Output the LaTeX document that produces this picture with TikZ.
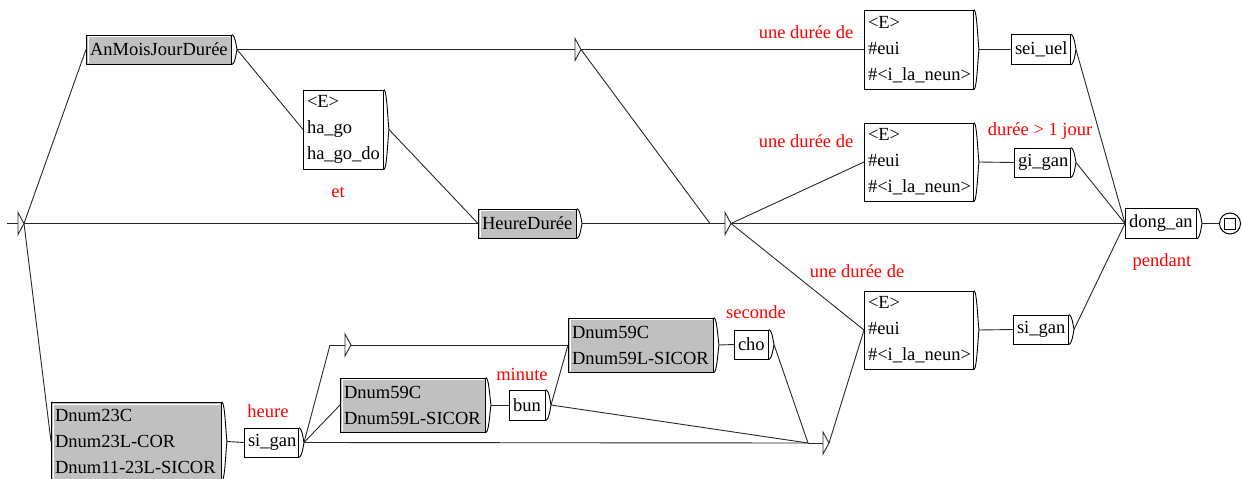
\documentclass[tikz,border=0pt]{standalone}
\usepackage{fontspec}
\setmainfont{Liberation Serif}
\usetikzlibrary{calc}
\hyphenpenalty=10000
\exhyphenpenalty=10000
\definecolor{boxgray}{RGB}{192,192,192}
\definecolor{lnc}{RGB}{40,40,40}
\newcommand\brk[1]{%
  \coordinate (#1-o) at ($(#1.east)+(5,0)$);
  \draw[brkst] (#1.north east) .. controls ($(#1.north east)+(3,1)$) and ($(#1-o)+(-1,-5)$) .. (#1-o)
    .. controls ($(#1-o)+(-1,5)$) and ($(#1.south east)+(3,-1)$) .. (#1.south east);}
\begin{document}
\begin{tikzpicture}[x=1pt,y=-1pt,
  bx/.style={draw=black, line width=1pt, fill=white, rectangle, anchor=west,
    inner xsep=3.5pt, inner ysep=0pt, align=left,
    font=\fontsize{18.5}{26}\selectfont},
  gbx/.style={bx, fill=boxgray,
    path picture={\draw[white,line width=1pt]
      ([shift={(1.5pt,1.5pt)}]path picture bounding box.south west) --
      ([shift={(1.5pt,-1.5pt)}]path picture bounding box.north west) --
      ([shift={(-1.5pt,-1.5pt)}]path picture bounding box.north east);}},
  brkst/.style={line width=0.9pt, draw=black},
  ln/.style={line width=0.9pt, draw=lnc},
  lbl/.style={text=red, anchor=base, inner sep=0pt, font=\fontsize{18.5}{22}\selectfont}]
\useasboundingbox (0,0) rectangle (1242,479);

% boxes
\node[gbx, text width=138pt, minimum height=29pt] (amjd) at (86,49.5) {AnMoisJourDurée};
\node[bx, text width=73pt, minimum height=79pt] (hago) at (303,129.5) {<E>\\ha\_go\\ha\_go\_do};
\node[gbx, text width=91pt, minimum height=29pt] (heure) at (478,223.5) {HeureDurée};
\node[bx, text width=102pt, minimum height=79pt] (b1) at (864,49.5) {<E>\\\#eui\\\#<i\_la\_neun>};
\node[bx, text width=52pt, minimum height=30pt] (seiuel) at (1011,49.5) {sei\_uel};
\node[bx, text width=102pt, minimum height=78pt] (b2) at (864,162) {<E>\\\#eui\\\#<i\_la\_neun>};
\node[bx, text width=49pt, minimum height=29pt] (gigan) at (1014,162.5) {gi\_gan};
\node[bx, text width=64pt, minimum height=30pt] (dongan) at (1125,223.5) {dong\_an};
\node[bx, text width=102pt, minimum height=78pt] (b3) at (864,330) {<E>\\\#eui\\\#<i\_la\_neun>};
\node[bx, text width=48pt, minimum height=29pt] (sigan2) at (1013,329.5) {si\_gan};
\node[gbx, text width=163pt, minimum height=78pt] (dnum23) at (51,441.5) {Dnum23C\\Dnum23L-COR\\Dnum11-23L-SICOR};
\node[bx, text width=47pt, minimum height=29pt] (sigan1) at (244,442.5) {si\_gan};
\node[gbx, text width=138pt, minimum height=54pt] (d59a) at (340,405) {Dnum59C\\Dnum59L-SICOR};
\node[bx, text width=29pt, minimum height=30pt] (bun) at (509,405) {bun};
\node[gbx, text width=138pt, minimum height=54pt] (d59b) at (568,345) {Dnum59C\\Dnum59L-SICOR};
\node[bx, text width=27pt, minimum height=29pt] (cho) at (734,344.5) {cho};

\foreach \n in {amjd,hago,heure,b1,seiuel,b2,gigan,dongan,b3,sigan2,dnum23,sigan1,d59a,bun,d59b,cho}{\brk{\n}}

% final state
\node[circle, draw=black, line width=1pt, minimum size=21pt, inner sep=0pt] (fin) at (1230,223.5) {};
\node[rectangle, draw=black, line width=1pt, minimum size=11pt, inner sep=0pt] (finsq) at (fin.center) {};

% initial state
\coordinate (init0) at (7,223.5);
\coordinate (init) at (24,223.5);

% empty nodes coordinates
\coordinate (E1-i) at (560,49.5);
\coordinate (E1-t) at (581,49.5);
\coordinate (E2-i) at (710,223.5);
\coordinate (E2-t) at (731,223.5);
\coordinate (E3-i) at (330,345);
\coordinate (E3-t) at (351,345);
\coordinate (E4-i) at (808,443);
\coordinate (E4-t) at (829,443);

% connectors
\draw[ln] (init0) -- (init);
\draw[ln] (init) -- (amjd.west);
\draw[ln] (init) -- (heure.west);
\draw[ln] (init) -- (dnum23.west);
\draw[ln] (amjd-o) -- (E1-i);
\draw[ln] (amjd-o) -- (hago.west);
\draw[ln] (hago-o) -- (heure.west);
\draw[ln] (heure-o) -- (E2-i);
\draw[ln] (E1-t) -- (b1.west);
\draw[ln] (E1-t) -- (E2-i);
\draw[ln] (E2-t) -- (b2.west);
\draw[ln] (E2-t) -- (b3.west);
\draw[ln] (E2-t) -- (dongan.west);
\draw[ln] (b1-o) -- (seiuel.west);
\draw[ln] (seiuel-o) -- (dongan.west);
\draw[ln] (b2-o) -- (gigan.west);
\draw[ln] (gigan-o) -- (dongan.west);
\draw[ln] (b3-o) -- (sigan2.west);
\draw[ln] (sigan2-o) -- (dongan.west);
\draw[ln] (dongan-o) -- (fin.west);
\draw[ln] (dnum23-o) -- (sigan1.west);
\draw[ln] (sigan1-o) -- (E3-i);
\draw[ln] (sigan1-o) -- (d59a.west);
\draw[ln] (sigan1-o) -- (E4-i);
\draw[ln] (E3-t) -- (d59b.west);
\draw[ln] (d59a-o) -- (bun.west);
\draw[ln] (bun-o) -- (d59b.west);
\draw[ln] (bun-o) -- (E4-i);
\draw[ln] (d59b-o) -- (cho.west);
\draw[ln] (cho-o) -- (E4-i);
\draw[ln] (E4-t) -- (b3.west);

% empty-node stubs and triangles
\foreach \e in {E1,E2,E3,E4}{
  \draw[ln] (\e-i) -- ($(\e-i)+(15,0)$);
  \draw[ln,fill=white] ($(\e-i)+(15,-11)$) -- (\e-t) -- ($(\e-i)+(15,11)$) -- cycle;
}
\draw[ln,fill=white] (18,212.5) -- (init) -- (18,234.5) -- cycle;

% comments (red)
\node[lbl] (c1) at (806,38) {une durée de};
\node[lbl] (c2) at (806,147) {une durée de};
\node[lbl] (c3) at (1040,135) {durée > 1 jour};
\node[lbl] (c4) at (857,277) {une durée de};
\node[lbl] (c5) at (1162,266) {pendant};
\node[lbl] (c6) at (338,197) {et};
\node[lbl] (c7) at (268,417) {heure};
\node[lbl] (c8) at (522,380) {minute};
\node[lbl] (c9) at (756,318) {seconde};
\end{tikzpicture}
\end{document}
